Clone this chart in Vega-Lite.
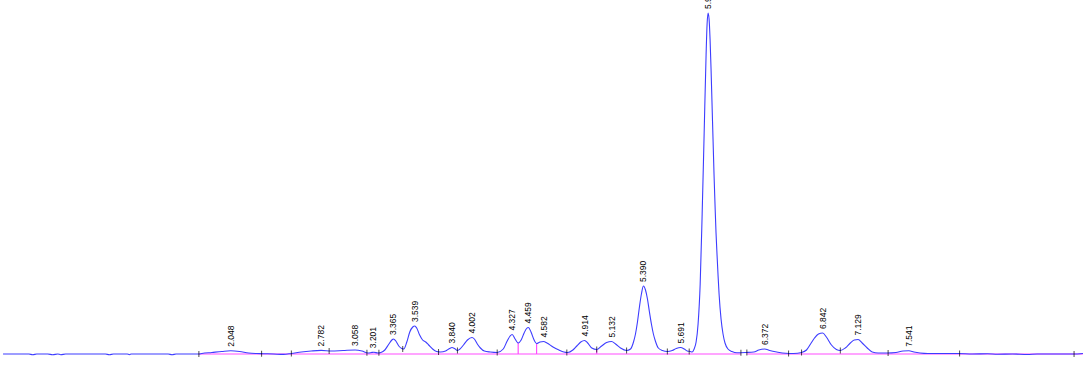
{
  "$schema": "https://vega.github.io/schema/vega-lite/v6.json",
  "width": 1086,
  "height": 369,
  "autosize": {"type": "fit", "contains": "padding"},
  "padding": 0,
  "background": "white",
  "config": {"view": {"stroke": null}},
  "datasets": {
    "sig": [
      {"t":0.204,"s":0},{"t":0.413,"s":0},{"t":0.445,"s":-0.7},{"t":0.477,"s":0},{"t":0.566,"s":0},{"t":0.606,"s":-0.7},{"t":0.647,"s":0},{"t":0.671,"s":-0.7},{"t":0.711,"s":0},{"t":1.033,"s":0},{"t":1.065,"s":-0.7},{"t":1.098,"s":0},{"t":1.210,"s":0},{"t":1.227,"s":-0.7},{"t":1.243,"s":0},{"t":1.541,"s":0},{"t":1.573,"s":-0.7},{"t":1.605,"s":0},{"t":1.790,"s":0},
      {"t":1.814,"s":0.5},{"t":1.895,"s":1.5},{"t":1.976,"s":2.5},{"t":2.048,"s":3.2},{"t":2.120,"s":2.5},{"t":2.193,"s":1},{"t":2.257,"s":0.5},{"t":2.314,"s":0.3},{"t":2.394,"s":0},{"t":2.475,"s":-0.4},{"t":2.539,"s":0.5},
      {"t":2.620,"s":2},{"t":2.700,"s":3},{"t":2.781,"s":3.6},{"t":2.862,"s":3},{"t":2.958,"s":3.5},{"t":3.055,"s":4},{"t":3.111,"s":3},{"t":3.160,"s":1},{"t":3.192,"s":1.6},{"t":3.208,"s":1.8},{"t":3.240,"s":1},
      {"t":3.264,"s":1.5},{"t":3.296,"s":4},{"t":3.329,"s":10},{"t":3.353,"s":14},{"t":3.365,"s":15},{"t":3.385,"s":13},{"t":3.409,"s":8},{"t":3.433,"s":5.5},{"t":3.449,"s":5},
      {"t":3.474,"s":12},{"t":3.498,"s":22},{"t":3.522,"s":27},{"t":3.539,"s":28},{"t":3.554,"s":26},{"t":3.578,"s":19},{"t":3.602,"s":14},{"t":3.627,"s":12},{"t":3.651,"s":9},{"t":3.683,"s":5},{"t":3.715,"s":2.5},{"t":3.747,"s":2},
      {"t":3.788,"s":3},{"t":3.820,"s":5.5},{"t":3.840,"s":6.5},{"t":3.860,"s":5.5},{"t":3.884,"s":3.5},{"t":3.900,"s":4.5},{"t":3.933,"s":9},{"t":3.965,"s":14},{"t":4.002,"s":16.5},{"t":4.021,"s":15},{"t":4.045,"s":10},{"t":4.070,"s":6},{"t":4.102,"s":3},{"t":4.150,"s":2},{"t":4.206,"s":1.5},
      {"t":4.255,"s":5},{"t":4.287,"s":13},{"t":4.311,"s":18},{"t":4.327,"s":19.5},{"t":4.351,"s":15},{"t":4.376,"s":11},{"t":4.400,"s":14},{"t":4.424,"s":21},{"t":4.444,"s":25.5},{"t":4.459,"s":26.5},{"t":4.480,"s":22},{"t":4.505,"s":14},{"t":4.525,"s":10.5},{"t":4.553,"s":12},{"t":4.582,"s":12.5},{"t":4.609,"s":11},{"t":4.658,"s":7},{"t":4.706,"s":4},{"t":4.746,"s":2},{"t":4.778,"s":1.5},
      {"t":4.819,"s":4},{"t":4.851,"s":8},{"t":4.883,"s":12},{"t":4.914,"s":13.5},{"t":4.939,"s":11},{"t":4.972,"s":6},{"t":5.012,"s":4.5},{"t":5.052,"s":8},{"t":5.092,"s":11.5},{"t":5.132,"s":12.5},{"t":5.165,"s":10},{"t":5.205,"s":6},{"t":5.254,"s":3.5},
      {"t":5.286,"s":5},{"t":5.310,"s":12},{"t":5.326,"s":20},{"t":5.342,"s":32},{"t":5.358,"s":47},{"t":5.374,"s":60},{"t":5.390,"s":68},{"t":5.407,"s":64},{"t":5.423,"s":55},{"t":5.439,"s":42},{"t":5.455,"s":30},{"t":5.471,"s":20},{"t":5.487,"s":13},{"t":5.511,"s":6},{"t":5.544,"s":3.5},{"t":5.584,"s":2.5},
      {"t":5.624,"s":3.5},{"t":5.656,"s":5.5},{"t":5.691,"s":6.5},{"t":5.721,"s":5},{"t":5.745,"s":3},{"t":5.769,"s":2.5},{"t":5.785,"s":2},
      {"t":5.801,"s":5},{"t":5.817,"s":12},{"t":5.833,"s":30},{"t":5.850,"s":70},{"t":5.866,"s":140},{"t":5.882,"s":220},{"t":5.898,"s":300},{"t":5.906,"s":330},{"t":5.914,"s":341},{"t":5.922,"s":335},{"t":5.930,"s":315},{"t":5.938,"s":285},{"t":5.946,"s":250},{"t":5.954,"s":215},{"t":5.962,"s":180},{"t":5.970,"s":150},{"t":5.978,"s":122},{"t":5.987,"s":98},{"t":5.995,"s":78},{"t":6.003,"s":60},{"t":6.019,"s":35},{"t":6.035,"s":20},{"t":6.051,"s":11},{"t":6.075,"s":5},{"t":6.107,"s":2.5},{"t":6.148,"s":1.2},
      {"t":6.220,"s":1.5},{"t":6.284,"s":2},{"t":6.325,"s":4},{"t":6.372,"s":5},{"t":6.413,"s":3.5},{"t":6.470,"s":2},{"t":6.542,"s":0.7},{"t":6.607,"s":0.5},{"t":6.671,"s":1.5},
      {"t":6.711,"s":4},{"t":6.744,"s":10},{"t":6.776,"s":16},{"t":6.808,"s":20},{"t":6.842,"s":21},{"t":6.872,"s":17},{"t":6.913,"s":9},{"t":6.953,"s":4.5},{"t":6.985,"s":3.5},{"t":7.025,"s":6},{"t":7.066,"s":11},{"t":7.098,"s":14},{"t":7.129,"s":14.5},{"t":7.162,"s":11},{"t":7.203,"s":6},{"t":7.243,"s":2},{"t":7.291,"s":1},{"t":7.364,"s":1},
      {"t":7.436,"s":1.5},{"t":7.493,"s":3},{"t":7.541,"s":3.2},{"t":7.581,"s":2},{"t":7.630,"s":1},{"t":7.694,"s":0.5},{"t":7.936,"s":0.5},{"t":8.056,"s":0},{"t":8.177,"s":0.3},{"t":8.258,"s":-0.3},{"t":8.379,"s":0},{"t":8.499,"s":-0.5},{"t":8.580,"s":0},{"t":8.870,"s":0},{"t":8.950,"s":0.5}
    ],
    "pk": [
      {"rt":2.048,"h":3.2},{"rt":2.782,"h":3.6},{"rt":3.058,"h":4},{"rt":3.201,"h":1.8},{"rt":3.365,"h":15},{"rt":3.539,"h":28},{"rt":3.840,"h":6.5},{"rt":4.002,"h":16.5},{"rt":4.327,"h":19.5},{"rt":4.459,"h":26.5},{"rt":4.582,"h":12.5},{"rt":4.914,"h":13.5},{"rt":5.132,"h":12.5},{"rt":5.390,"h":68},{"rt":5.691,"h":6.5},{"rt":5.914,"h":341},{"rt":6.372,"h":5},{"rt":6.842,"h":21},{"rt":7.129,"h":14.5},{"rt":7.541,"h":3.2}
    ],
    "tk": [
      {"t":1.790,"s":0},{"t":2.298,"s":0.3},{"t":2.539,"s":0.5},{"t":2.845,"s":3},{"t":3.151,"s":1.2},{"t":3.248,"s":1.2},{"t":3.441,"s":5},{"t":3.731,"s":2},{"t":3.884,"s":3.5},{"t":4.206,"s":1.5},{"t":4.770,"s":1.5},{"t":5.012,"s":4.5},{"t":5.254,"s":3.5},{"t":5.584,"s":2.5},{"t":5.761,"s":2.5},{"t":6.180,"s":1.2},{"t":6.228,"s":1.5},{"t":6.566,"s":0.6},{"t":6.671,"s":1.5},{"t":6.985,"s":3.5},{"t":7.372,"s":1},{"t":7.951,"s":0.5},{"t":8.878,"s":0}
    ],
    "bl": [
      {"t1":1.790,"t2":6.180,"y1":0,"y2":0},
      {"t1":6.228,"t2":8.950,"y1":0,"y2":0},
      {"t1":4.376,"t2":4.376,"y1":0,"y2":11},
      {"t1":4.525,"t2":4.525,"y1":0,"y2":10.5},
      {"t1":5.012,"t2":5.012,"y1":0,"y2":4.5}
    ]
  },
  "layer": [
    {
      "data": {"name": "bl"},
      "mark": {"type": "rule", "color": "#ff4dff", "strokeWidth": 1.2},
      "encoding": {
        "x": {"field": "t1", "type": "quantitative", "scale": {"domain": [0.2036, 8.9504], "nice": false, "zero": false}, "axis": null},
        "x2": {"field": "t2"},
        "y": {"field": "y1", "type": "quantitative", "scale": {"domain": [-15, 354], "nice": false, "zero": false}, "axis": null},
        "y2": {"field": "y2"}
      }
    },
    {
      "data": {"name": "sig"},
      "mark": {"type": "line", "color": "#3d3dff", "strokeWidth": 1.1, "interpolate": "monotone"},
      "encoding": {
        "x": {"field": "t", "type": "quantitative"},
        "y": {"field": "s", "type": "quantitative"}
      }
    },
    {
      "data": {"name": "tk"},
      "mark": {"type": "tick", "orient": "vertical", "size": 6, "thickness": 1, "color": "#000000"},
      "encoding": {
        "x": {"field": "t", "type": "quantitative"},
        "y": {"field": "s", "type": "quantitative"}
      }
    },
    {
      "data": {"name": "pk"},
      "mark": {"type": "text", "angle": 270, "align": "left", "baseline": "middle", "dx": 4, "font": "Liberation Sans", "fontSize": 8.5, "color": "#000000", "clip": true},
      "encoding": {
        "x": {"field": "rt", "type": "quantitative"},
        "y": {"field": "h", "type": "quantitative"},
        "text": {"field": "rt", "type": "quantitative", "format": ".3f"}
      }
    }
  ]
}
